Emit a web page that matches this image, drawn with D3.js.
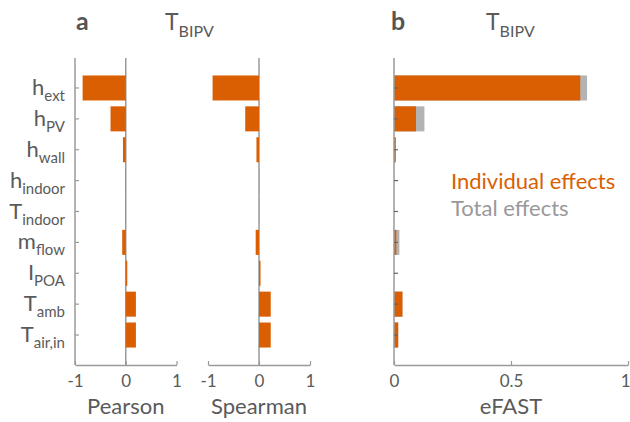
<!DOCTYPE html>
<html>
<head>
<meta charset="utf-8">
<script src="https://cdn.jsdelivr.net/npm/d3@7"></script>
<style>
  body { margin: 0; background: #fff; }
  text { font-family: Lato, "Open Sans", sans-serif; }
</style>
</head>
<body>
<div id="chart"></div>
<script>
// Parameter names (main letter + subscript)
const labelMain = ["h", "h", "h", "h", "T", "m", "I", "T", "T"];
const labelSub = ["ext", "PV", "wall", "indoor", "indoor", "flow", "POA", "amb", "air,in"];

// Correlation coefficients
const pearson = [-0.85, -0.30, -0.055, 0.005, 0.005, -0.07, 0.03, 0.20, 0.20];
const spearman = [-0.91, -0.27, -0.05, 0.004, 0.004, -0.065, 0.03, 0.23, 0.23];

// eFAST indices
const efastIndividual = [0.796, 0.094, 0.007, 0, 0, 0.01, 0, 0.036, 0.018];
const efastTotal = [0.825, 0.13, 0.008, 0, 0, 0.023, 0, 0.036, 0.018];

const corrTicks = [-1, 0, 1];
const efastTicks = [0, 0.5, 1];

const orange = "#d95f02";
const grey = "#b3b3b3";
const axisColor = "#9a9a9a";
const textColor = "#5a5a5a";

const width = 630, height = 422;
const plotTop = 58, plotBottom = 365;

const svg = d3.select("#chart").append("svg")
    .attr("width", width)
    .attr("height", height);

const rows = d3.range(labelMain.length);
const y = d3.scaleBand()
    .domain(rows)
    .range([plotTop + 15, plotBottom - 15])
    .paddingInner(0.19)
    .paddingOuter(0.08);

// plain hyphen for negatives, like the original figure
const tickFmt = d => String(d);

// --- helpers ---
function bottomAxis(scale, ticks) {
    const g = svg.append("g")
        .attr("transform", "translate(0," + plotBottom + ")")
        .call(d3.axisBottom(scale).tickValues(ticks).tickSizeInner(-4).tickSizeOuter(0).tickPadding(10).tickFormat(tickFmt));
    g.select(".domain").attr("stroke", axisColor).attr("stroke-width", 1.5);
    g.selectAll(".tick line").attr("stroke", axisColor).attr("stroke-width", 1.2);
    g.selectAll(".tick text")
        .attr("fill", textColor)
        .style("font-size", "17px")
        .style("font-family", "Lato, sans-serif");
    return g;
}

function title(x, txt) {
    svg.append("text")
        .attr("x", x)
        .attr("y", 414)
        .attr("text-anchor", "middle")
        .attr("fill", textColor)
        .style("font-size", "22px")
        .text(txt);
}

function corrPanel(values, x, withLeftAxis) {
    const x0 = x(0);
    // zero line
    svg.append("line")
        .attr("x1", x0).attr("x2", x0)
        .attr("y1", plotTop).attr("y2", plotBottom)
        .attr("stroke", axisColor)
        .attr("stroke-width", 1.5);

    svg.append("g").selectAll("rect")
        .data(values)
        .enter().append("rect")
        .attr("x", d => Math.min(x0, x(d)))
        .attr("y", (d, i) => y(i))
        .attr("width", d => Math.abs(x(d) - x0))
        .attr("height", y.bandwidth())
        .attr("fill", orange);

    if (withLeftAxis) {
        const left = x.range()[0];
        svg.append("line")
            .attr("x1", left).attr("x2", left)
            .attr("y1", plotTop).attr("y2", plotBottom)
            .attr("stroke", axisColor)
            .attr("stroke-width", 1.5);
        svg.append("g").selectAll("line")
            .data(rows)
            .enter().append("line")
            .attr("x1", left).attr("x2", left + 4)
            .attr("y1", d => y(d) + y.bandwidth() / 2)
            .attr("y2", d => y(d) + y.bandwidth() / 2)
            .attr("stroke", axisColor)
            .attr("stroke-width", 1.2);
    }
    bottomAxis(x, corrTicks);
}

// --- panel a: Pearson ---
const xPearson = d3.scaleLinear().domain([-1, 1]).range([75, 176.5]);
corrPanel(pearson, xPearson, true);
title(xPearson(0), "Pearson");

// --- panel a: Spearman ---
const xSpearman = d3.scaleLinear().domain([-1, 1]).range([208, 310]);
corrPanel(spearman, xSpearman, false);
title(xSpearman(0), "Spearman");

// y labels
const labels = svg.append("g").selectAll("text")
    .data(rows)
    .enter().append("text")
    .attr("x", 65)
    .attr("y", d => y(d) + y.bandwidth() / 2 + 7)
    .attr("text-anchor", "end")
    .attr("fill", textColor)
    .style("font-size", "22px");
labels.append("tspan").text(d => labelMain[d]);
labels.append("tspan")
    .attr("dy", 6)
    .style("font-size", "15px")
    .text(d => labelSub[d]);

// --- panel b: eFAST ---
const xEfast = d3.scaleLinear().domain([0, 1]).range([394, 628]);

svg.append("g").selectAll("rect")
    .data(efastTotal)
    .enter().append("rect")
    .attr("x", xEfast(0))
    .attr("y", (d, i) => y(i))
    .attr("width", d => xEfast(d) - xEfast(0))
    .attr("height", y.bandwidth())
    .attr("fill", grey);

svg.append("g").selectAll("rect")
    .data(efastIndividual)
    .enter().append("rect")
    .attr("x", xEfast(0))
    .attr("y", (d, i) => y(i))
    .attr("width", d => xEfast(d) - xEfast(0))
    .attr("height", y.bandwidth())
    .attr("fill", orange);

svg.append("line")
    .attr("x1", xEfast(0)).attr("x2", xEfast(0))
    .attr("y1", plotTop).attr("y2", plotBottom)
    .attr("stroke", axisColor)
    .attr("stroke-width", 1.5);
svg.append("g").selectAll("line")
    .data(rows)
    .enter().append("line")
    .attr("x1", xEfast(0)).attr("x2", xEfast(0) + 4)
    .attr("y1", d => y(d) + y.bandwidth() / 2)
    .attr("y2", d => y(d) + y.bandwidth() / 2)
    .attr("stroke", "#666")
    .attr("stroke-width", 1.2);

const efastAxis = bottomAxis(xEfast, efastTicks);
// keep the last label inside the page edge
efastAxis.selectAll(".tick text")
    .filter(d => d === 1)
    .attr("text-anchor", "end")
    .attr("x", 2);
title(xEfast(0.5), "eFAST");

// legend
svg.append("text")
    .attr("x", 451).attr("y", 189)
    .attr("fill", orange)
    .style("font-size", "22px")
    .text("Individual effects");
svg.append("text")
    .attr("x", 451).attr("y", 216)
    .attr("fill", "#999")
    .style("font-size", "22px")
    .text("Total effects");

// panel letters and titles
function header(xLetter, letter, xT) {
    svg.append("text")
        .attr("x", xLetter).attr("y", 30)
        .attr("fill", "#555")
        .style("font-size", "25px")
        .style("font-weight", "bold")
        .text(letter);
    const t = svg.append("text")
        .attr("x", xT).attr("y", 30)
        .attr("fill", textColor)
        .style("font-size", "23px");
    t.append("tspan").text("T");
    t.append("tspan").attr("dy", 7).style("font-size", "16px").text("BIPV");
}
header(76, "a", 165);
header(391, "b", 486);
</script>
</body>
</html>
